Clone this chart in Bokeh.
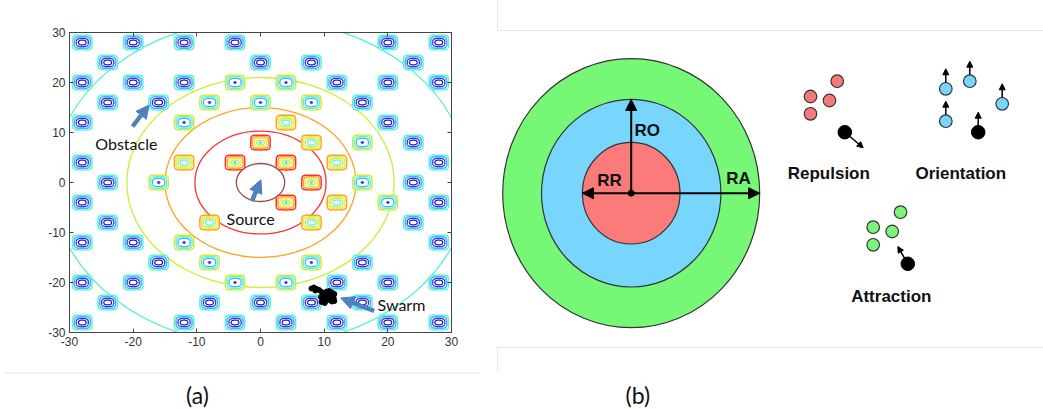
import numpy as np
from bokeh.plotting import figure
from bokeh.layouts import row, column
from bokeh.models import (Range1d, LinearAxis, FixedTicker, Arrow,
                          NormalHead, ColumnDataSource)
from bokeh.core.properties import value
from bokeh.embed import file_html
from bokeh.resources import INLINE

# ======================= panel (a) data =======================
TICKS = [-30, -20, -10, 0, 10, 20, 30]
TICK_LABELS = ["-30", "-20", "-10", "0", "10", "20", "30"]

# concentric source contours (radius in data units) and their colours
SOURCE_RADII = [3.8, 10.3, 15.0, 21.0, 32.7]
SOURCE_COLORS = ["#a04848", "#ff3030", "#ffa322", "#cdee35", "#55f2c8"]

# obstacle centres
OBST_X = [-28, -20, -12, -4, 20, 28,
          -24, 0, 8, 24,
          -28, -20, -12, -4, 4, 12, 20, 28,
          -24, -16, -8, 0, 8, 16,
          -28, -12, 4, 20,
          0, 8, 16, 24,
          -28, -12, -4, 4, 12, 28,
          -24, -16, 8, 16, 24,
          -28, 4, 12, 20, 28,
          -24, -8, 8, 24,
          -28, -20, -12, 28,
          -16, -8, 8, 16,
          -28, -20, -4, 4, 12, 20, 28,
          -24, -8, 0, 8, 16,
          -28, -12, -4, 4, 12, 20, 28]
OBST_Y = [28] * 6 + [24] * 4 + [20] * 8 + [16] * 6 + [12] * 4 + [8] * 4 + \
         [4] * 6 + [0] * 5 + [-4] * 5 + [-8] * 4 + [-12] * 4 + [-16] * 4 + \
         [-20] * 7 + [-24] * 5 + [-28] * 7

# nested rings of every obstacle (outer -> inner), size in data units
RING_W = [3.05, 2.5, 1.9, 1.2, 0.42]
RING_H = [2.95, 2.3, 1.65, 0.95, 0.42]
RING_N = [5.0, 4.0, 3.0, 2.5, 2.0]
RING_LW = [1.5, 1.5, 1.3, 1.2, 1.0]
# ring colours depending on the source zone the obstacle sits in
ZONE_RINGS = [
    ["#5ff2d2", "#3fb4ff", "#3434f0", "#1a1aa0", None],      # r > 32.7
    ["#5ff2d2", "#3fb4ff", "#3434f0", "#1a1aa0", None],      # 21 .. 32.7
    ["#cdee35", "#5ff2d2", "#3fb4ff", None, "#3434f0"],      # 15 .. 21
    ["#ffa322", "#ecec30", "#aef055", "#5ff2d2", None],      # 10.3 .. 15
    ["#ff3030", "#ffa322", "#ecec30", "#aef055", "#40eed8"], # 3.8 .. 10.3
]

# swarm agents
SWARM_X = [8.0, 8.4, 8.8, 9.2, 8.6, 9.6, 9.9, 9.5, 9.9, 9.6, 10.1, 10.4,
           10.8, 11.2, 11.6, 10.6, 11.0, 11.5, 10.7, 11.2, 11.6, 10.3]
SWARM_Y = [-21.2, -21.0, -21.3, -21.5, -21.6, -21.9, -22.4, -22.9, -23.4,
           -23.9, -24.1, -21.8, -21.7, -22.0, -22.3, -22.4, -22.9, -23.1,
           -23.5, -23.8, -23.7, -23.0]

# annotation arrows (tail -> head) and labels
ARROW_X0 = [-20.1, -1.35, 17.85]
ARROW_Y0 = [11.2, -3.74, -25.7]
ARROW_X1 = [-17.5, 0.06, 12.6]
ARROW_Y1 = [15.5, 0.54, -23.1]
LABEL_TEXT = ["Obstacle", "Source", "Swarm"]
LABEL_X = [-25.95, -1.55, 18.38]
LABEL_Y = [7.86, -7.13, -24.3]
LABEL_ALIGN = ["left", "center", "left"]

# ======================= panel (b) data =======================
ZONE_CX, ZONE_CY = 630.7, 192.7
ZONE_RX = [128.5, 89.7, 48.8]
ZONE_RY = [134.5, 93.8, 50.8]
ZONE_FILL = ["#76f776", "#78d5fb", "#fb7b7b"]
ZONE_NAMES = ["RA", "RO", "RR"]
ZONE_LABEL_X = [738.0, 646.7, 609.0]
ZONE_LABEL_Y = [178.3, 130.0, 180.0]

AGENT_R = 6.3
REP_X = [810.0, 829.0, 836.7, 810.0]
REP_Y = [96.0, 100.0, 80.7, 113.3]
ORI_X = [945.3, 969.3, 945.3, 1001.7]
ORI_Y = [88.3, 80.7, 120.7, 103.3]
ATT_X = [872.7, 891.7, 900.0, 872.7]
ATT_Y = [226.7, 231.0, 211.7, 244.3]
FOCAL_X = [844.3, 977.7, 907.3]
FOCAL_Y = [131.7, 131.7, 263.3]
FOCAL_TIP_X = [862.7, 977.7, 897.3]
FOCAL_TIP_Y = [147.3, 111.7, 246.0]
ORI_TIP_DY = 20.0

RULE_TEXT = ["Repulsion", "Orientation", "Attraction"]
RULE_X = [828.3, 960.3, 890.8]
RULE_Y = [172.7, 172.7, 296.0]

# faint frame lines of the figure (page pixels)
BORDER_X0 = [497, 497, 497, 497, 4, 497]
BORDER_Y0 = [30, 347, 0, 347, 372.5, 369]
BORDER_X1 = [1043, 1043, 497, 497, 480, 497]
BORDER_Y1 = [30, 347, 30, 372, 372.5, 372]

CAPTION_TEXT = ["(a)", "(b)"]
CAPTION_X = [197.0, 637.3]
CAPTION_Y = [394.5, 394.5]

TOP_H = 369


def no_align(p):
    try:
        p.frame_align = False
    except Exception:
        pass


# ======================= panel (a) =======================
pa = figure(width=490, height=TOP_H, x_range=Range1d(-30, 30), y_range=Range1d(-30, 30),
            output_backend="svg", toolbar_location=None,
            min_border_left=69, min_border_right=39, min_border_top=32,
            min_border_bottom=TOP_H - 332)
no_align(pa)
pa.title.visible = False
pa.add_layout(LinearAxis(), "above")
pa.add_layout(LinearAxis(), "right")
pa.grid.visible = False
pa.outline_line_color = "#444444"
for ax in pa.axis:
    ax.ticker = FixedTicker(ticks=TICKS)
    ax.major_tick_in = 4
    ax.major_tick_out = 0
    ax.minor_tick_in = 0
    ax.minor_tick_out = 0
    ax.axis_line_color = "#444444"
    ax.major_tick_line_color = "#444444"
    ax.major_label_text_font = "Liberation Sans"
    ax.major_label_text_font_size = "12px"
    ax.major_label_text_color = "#333333"
    ax.major_label_standoff = 4
    ax.major_label_overrides = dict(zip(TICKS, TICK_LABELS))
for ax in pa.above + pa.right:
    if isinstance(ax, LinearAxis):
        ax.major_label_overrides = {t: "" for t in TICKS}
        ax.major_label_standoff = 0

# source contours
pa.ellipse(x=[0] * len(SOURCE_RADII), y=[0] * len(SOURCE_RADII),
           width=[2 * r for r in SOURCE_RADII], height=[2 * r for r in SOURCE_RADII],
           fill_color=None, line_color=SOURCE_COLORS, line_width=1.3)


def squircle(cx, cy, a, b, n, m=72):
    t = np.linspace(0, 2 * np.pi, m, endpoint=False)
    c, s = np.cos(t), np.sin(t)
    return (list(cx + a * np.sign(c) * np.abs(c) ** (2 / n)),
            list(cy + b * np.sign(s) * np.abs(s) ** (2 / n)))


for k in range(len(RING_W)):
    xs, ys, cols = [], [], []
    for ox, oy in zip(OBST_X, OBST_Y):
        r = np.hypot(ox, oy)
        zone = sum(1 for R in SOURCE_RADII if r < R)
        zone = min(zone, len(ZONE_RINGS) - 1)
        col = ZONE_RINGS[zone][k]
        if col is None:
            continue
        x, y = squircle(ox, oy, RING_W[k] / 2, RING_H[k] / 2, RING_N[k])
        xs.append(x)
        ys.append(y)
        cols.append(col)
    src = ColumnDataSource(dict(xs=xs, ys=ys, c=cols))
    if k == 0:
        pa.patches("xs", "ys", source=src, fill_color="white", line_color="c",
                   line_width=RING_LW[k])
    elif k == len(RING_W) - 1:
        pa.patches("xs", "ys", source=src, fill_color="c", line_color="c",
                   line_width=RING_LW[k])
    else:
        pa.patches("xs", "ys", source=src, fill_color=None, line_color="c",
                   line_width=RING_LW[k])

pa.scatter(SWARM_X, SWARM_Y, size=5, marker="circle", color="black")

arrow_src = ColumnDataSource(dict(x0=ARROW_X0, y0=ARROW_Y0, x1=ARROW_X1, y1=ARROW_Y1))
pa.add_layout(Arrow(x_start="x0", y_start="y0", x_end="x1", y_end="y1", source=arrow_src,
                    line_color="#4f81bd", line_width=4.5,
                    end=NormalHead(size=13, fill_color="#4f81bd", line_color="#4f81bd")))

pa.text(x=LABEL_X, y=LABEL_Y, text=LABEL_TEXT, text_align=LABEL_ALIGN, text_baseline="middle",
        text_font=value("Lato"), text_font_size="16px", text_color="#111111")

# ======================= panel (b) =======================
pb = figure(width=553, height=TOP_H, x_range=Range1d(490, 1043), y_range=Range1d(TOP_H, 0),
            output_backend="svg", toolbar_location=None, min_border=0,
            x_axis_location=None, y_axis_location=None)
no_align(pb)
pb.title.visible = False
pb.outline_line_color = None
pb.grid.visible = False

pb.segment(x0=BORDER_X0, y0=BORDER_Y0, x1=BORDER_X1, y1=BORDER_Y1,
           line_color="#e6e6e6", line_width=1)

pb.ellipse(x=[ZONE_CX] * 3, y=[ZONE_CY] * 3, width=[2 * r for r in ZONE_RX],
           height=[2 * r for r in ZONE_RY], fill_color=ZONE_FILL,
           line_color="#333333", line_width=1.2)

zone_arrows = ColumnDataSource(dict(
    x0=[ZONE_CX] * 3, y0=[ZONE_CY] * 3,
    x1=[ZONE_CX + ZONE_RX[0], ZONE_CX, ZONE_CX - ZONE_RX[2]],
    y1=[ZONE_CY, ZONE_CY - ZONE_RY[1], ZONE_CY]))
pb.add_layout(Arrow(x_start="x0", y_start="y0", x_end="x1", y_end="y1", source=zone_arrows,
                    line_color="black", line_width=2,
                    end=NormalHead(size=11, fill_color="black", line_color="black")))
pb.scatter([ZONE_CX], [ZONE_CY], size=6, color="black")
pb.text(x=ZONE_LABEL_X, y=ZONE_LABEL_Y, text=ZONE_NAMES, text_align="center",
        text_baseline="middle", text_font=value("Liberation Sans"), text_font_style="bold",
        text_font_size="17px", text_color="#111111")

pb.circle(REP_X, REP_Y, radius=AGENT_R, fill_color="#f47a7a", line_color="#333333", line_width=1.2)
pb.circle(ORI_X, ORI_Y, radius=AGENT_R, fill_color="#78d5fb", line_color="#333333", line_width=1.2)
pb.circle(ATT_X, ATT_Y, radius=AGENT_R, fill_color="#7cf47c", line_color="#333333", line_width=1.2)
pb.circle(FOCAL_X, FOCAL_Y, radius=AGENT_R + 0.5, fill_color="black", line_color="black")

fx = np.array(FOCAL_X)
fy = np.array(FOCAL_Y)
tx = np.array(FOCAL_TIP_X)
ty = np.array(FOCAL_TIP_Y)
d = np.hypot(tx - fx, ty - fy)
sx = fx + (tx - fx) / d * AGENT_R
sy = fy + (ty - fy) / d * AGENT_R
small_x0 = list(sx) + list(ORI_X)
small_y0 = list(sy) + [y - AGENT_R for y in ORI_Y]
small_x1 = list(tx) + list(ORI_X)
small_y1 = list(ty) + [y - ORI_TIP_DY for y in ORI_Y]
small_src = ColumnDataSource(dict(x0=small_x0, y0=small_y0, x1=small_x1, y1=small_y1))
pb.add_layout(Arrow(x_start="x0", y_start="y0", x_end="x1", y_end="y1", source=small_src,
                    line_color="black", line_width=1.5,
                    end=NormalHead(size=6, fill_color="black", line_color="black")))

pb.text(x=RULE_X, y=RULE_Y, text=RULE_TEXT, text_align="center", text_baseline="middle",
        text_font=value("Liberation Sans"), text_font_style="bold", text_font_size="17px",
        text_color="#111111")

# ======================= captions strip =======================
pc = figure(width=1043, height=409 - TOP_H, x_range=Range1d(0, 1043),
            y_range=Range1d(409, TOP_H), output_backend="svg", toolbar_location=None,
            min_border=0, x_axis_location=None, y_axis_location=None)
no_align(pc)
pc.title.visible = False
pc.outline_line_color = None
pc.grid.visible = False
pc.segment(x0=BORDER_X0, y0=BORDER_Y0, x1=BORDER_X1, y1=BORDER_Y1,
           line_color="#e6e6e6", line_width=1)
pc.text(x=CAPTION_X, y=CAPTION_Y, text=CAPTION_TEXT, text_align="center",
        text_baseline="middle", text_font=value("Lato"), text_font_size="23px",
        text_color="#111111")

layout = column(row(pa, pb), pc)
open("out.html", "w").write(file_html(layout, INLINE))
